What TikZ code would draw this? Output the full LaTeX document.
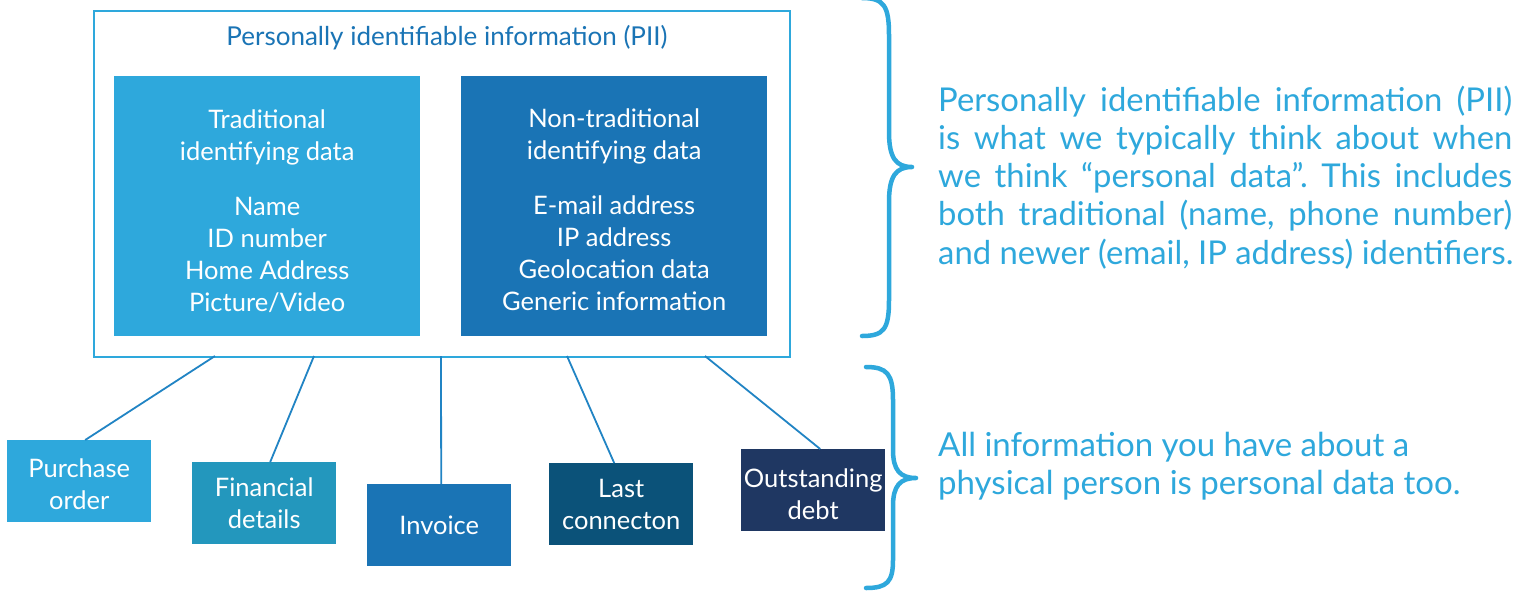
\documentclass[tikz,border=0pt]{standalone}
\usepackage{fontspec}
\setmainfont{Lato}
\frenchspacing
\definecolor{lightblue}{HTML}{2EA8DC}
\definecolor{midblue}{HTML}{1A74B5}
\definecolor{tealblue}{HTML}{2397BD}
\definecolor{navyblue}{HTML}{0B5279}
\definecolor{darknavy}{HTML}{1F3762}
\definecolor{linecol}{HTML}{2184C4}
\newcommand{\pushdown}[1]{\rule{0pt}{#1}}
\begin{document}
\begin{tikzpicture}[x=1pt,y=-1pt,
  boxfont/.style={font=\fontsize{25.5}{32}\selectfont},
  inner/.style={boxfont, text=white, align=center, minimum width=306pt, minimum height=260pt, inner sep=0pt, anchor=north west},
  leaf/.style={boxfont, text=white, align=center, minimum width=144pt, minimum height=82pt, inner sep=0pt, anchor=north west},
  conn/.style={draw=linecol, line width=1.8pt},
  rtext/.style={font=\fontsize{32.8}{38}\selectfont, text=lightblue, anchor=base west, inner sep=0pt},
  stext/.style={font=\fontsize{33}{38}\selectfont, text=lightblue, anchor=base west, inner sep=0pt},
  bracestyle/.style={draw=lightblue, line width=4.5pt, line cap=round, line join=round}]
\useasboundingbox (0,0) rectangle (1531,592);
\fill[white] (0,0) rectangle (1531,592);
% outer PII box
\node[draw=lightblue, line width=2pt, minimum width=696pt, minimum height=346pt, inner sep=0pt, anchor=north west] (pii) at (93,10) {};
\node[font=\fontsize{26}{30}\selectfont, text=midblue] (title) at (447,38) {Personally identifiable information (PII)};
% inner boxes
\node[inner, fill=lightblue] (trad) at (114,76) {\pushdown{28pt}Traditional\\identifying data\\[23pt]Name\\ID number\\Home Address\\Picture/Video};
\node[inner, fill=midblue] (nontrad) at (461,76) {\pushdown{26pt}Non-traditional\\identifying data\\[23pt]E-mail address\\IP address\\Geolocation data\\Generic information};
% leaf boxes
\node[leaf, fill=lightblue] (po) at (7,440) {\pushdown{25pt}Purchase\\order};
\node[leaf, fill=tealblue] (fd) at (192,462) {Financial\\details};
\node[leaf, fill=midblue] (inv) at (367,484) {Invoice};
\node[leaf, fill=navyblue] (lc) at (549,463) {Last\\connecton};
\node[leaf, fill=darknavy] (od) at (741,449) {\pushdown{27pt}Outstanding\\debt};
% connector start points on the PII box
\coordinate (c1) at (215,356);
\coordinate (c2) at (314,356);
\coordinate (c3) at (441,356);
\coordinate (c4) at (567,356);
\coordinate (c5) at (705,356);
\draw[conn] (c1) -- ([xshift=6pt]po.north);
\draw[conn] (c2) -- ([xshift=6pt]fd.north);
\draw[conn] (c3) -- ([xshift=2pt]inv.north);
\draw[conn] (c4) -- ([xshift=-7pt]lc.north);
\draw[conn] (c5) -- ([xshift=7pt]od.north);
% braces
\draw[bracestyle] (862,-2) .. controls (884,-2) and (889,6) .. (889,35) -- (889,132) .. controls (889,158) and (896,167) .. (912,167) .. controls (896,167) and (889,176) .. (889,202) -- (889,300) .. controls (889,329) and (884,336) .. (862,336);
\draw[bracestyle] (866,367) .. controls (887,367) and (893,374) .. (893,400) -- (893,450) .. controls (893,470) and (900,478) .. (916,478) .. controls (900,478) and (893,486) .. (893,506) -- (893,560) .. controls (893,582) and (887,588) .. (866,588);
% right texts
\node[rtext] (r1) at (938,111) {\makebox[574pt][s]{Personally identifiable information (PII)}};
\node[rtext] (r2) at (938,149) {\makebox[574pt][s]{is what we typically think about when}};
\node[rtext] (r3) at (938,187) {\makebox[574pt][s]{we think “personal data”. This includes}};
\node[rtext] (r4) at (938,225) {\makebox[574pt][s]{both traditional (name, phone number)}};
\node[rtext] (r5) at (938,264) {and newer (email, IP address) identifiers.};
\node[stext] (s1) at (938,456) {All information you have about a};
\node[stext] (s2) at (938,494) {physical person is personal data too.};
\end{tikzpicture}
\end{document}
